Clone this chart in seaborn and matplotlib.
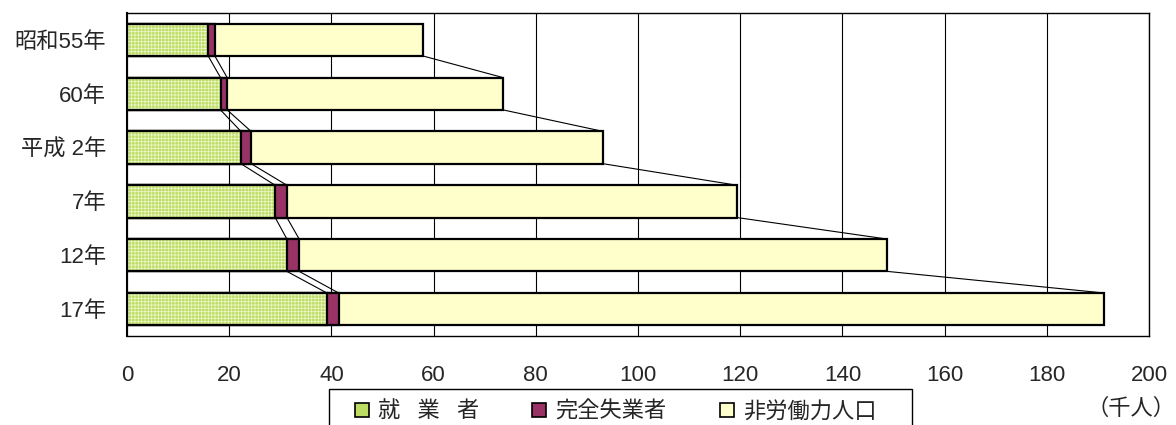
import numpy as np
import pandas as pd
import matplotlib
matplotlib.use('Agg')
import matplotlib.pyplot as plt
from matplotlib.patches import Patch, Rectangle
import seaborn as sns

# Values (thousand persons)
years = ['昭和55年', '60年', '平成 2年', '7年', '12年', '17年']
employed = [15.9, 18.3, 22.3, 29.0, 31.3, 39.1]
unemployed = [1.3, 1.3, 2.0, 2.3, 2.4, 2.3]
not_in_labor = [40.8, 54.0, 68.9, 88.1, 115.1, 149.7]
series_names = ['就\u2002 業\u2002 者', '完全失業者', '非労働力人口']
x_ticks = [0, 20, 40, 60, 80, 100, 120, 140, 160, 180, 200]

sns.set_style("white")
plt.rcParams['font.family'] = ['Liberation Sans', 'Noto Sans CJK JP']
plt.rcParams['hatch.linewidth'] = 0.6
fs = 16

green = "#bcdc62"
plum = "#993366"
cream = "#ffffcc"

# cumulative ends for stacking
df = pd.DataFrame({"year": years, "employed": employed,
                   "unemployed": unemployed, "not_in_labor": not_in_labor})
df["cum1"] = df["employed"]
df["cum2"] = df["cum1"] + df["unemployed"]
df["total"] = df["cum2"] + df["not_in_labor"]

fig = plt.figure(figsize=(11.76, 4.25), dpi=100)
ax = fig.add_axes([127 / 1176, 1 - 336 / 425, (1149 - 127) / 1176, (336 - 13) / 425])

bar_kw = dict(orient="h", order=years, width=0.6, edgecolor="black", linewidth=1.6, ax=ax)
sns.barplot(data=df, x="total", y="year", color=cream, saturation=1, **bar_kw)
sns.barplot(data=df, x="cum2", y="year", color=plum, saturation=1, **bar_kw)
sns.barplot(data=df, x="cum1", y="year", color=green, saturation=1, **bar_kw)
# checker pattern on the employed bars
n_bars = len(years)
for p in ax.patches[-n_bars:]:
    p.set_hatch("+++++")
    p.set_edgecolor("#eaf6c6")
    p.set_linewidth(0)
sns.barplot(data=df, x="cum1", y="year", fill=False, orient="h", order=years,
            width=0.6, edgecolor="black", linewidth=1.6, ax=ax)

# series lines between bars
for col in ["cum1", "cum2", "total"]:
    v = df[col].values
    for i in range(n_bars - 1):
        ax.plot([v[i], v[i + 1]], [i + 0.3, i + 0.7], color="black", lw=0.8, zorder=3)

ax.set_xlim(0, 200)
ax.set_ylim(n_bars - 0.5, -0.5)
ax.set_xticks(x_ticks)
ax.set_xlabel("")
ax.set_ylabel("")
ax.set_axisbelow(True)
ax.grid(axis="x", color="black", lw=0.8)
ax.grid(axis="y", visible=False)
ax.tick_params(axis="x", length=0, pad=21, labelsize=fs)
ax.tick_params(axis="y", which="major", length=0, pad=15, labelsize=fs)
ax.set_yticks(np.arange(n_bars - 1) + 0.5, minor=True)
ax.tick_params(axis="y", which="minor", direction="in", length=4, width=1, color="black")
for s in ax.spines.values():
    s.set_visible(True)
    s.set_color("black")
    s.set_linewidth(1)
ax.spines["left"].set_linewidth(1.5)

# legend with a box that runs off the bottom edge
handles = [Patch(facecolor=green, edgecolor="black", lw=1.2),
           Patch(facecolor=plum, edgecolor="black", lw=1.2),
           Patch(facecolor=cream, edgecolor="black", lw=1.2)]
fig.legend(handles, series_names, loc="center left",
           bbox_to_anchor=(355 / 1176, 1 - 412 / 425), ncol=3, frameon=False,
           borderpad=0, borderaxespad=0, handlelength=0.63, handleheight=0.63,
           handletextpad=0.4, columnspacing=2.4, fontsize=fs)
fig.add_artist(Rectangle((329 / 1176, -0.05), (912 - 329) / 1176, 0.05 + (425 - 389) / 425,
                         transform=fig.transFigure, fill=False, edgecolor="black", lw=1))

fig.text(1.0, 1 - 409 / 425, "（千人）", ha="right", va="center", fontsize=fs)

plt.savefig("out.png", dpi=100)
